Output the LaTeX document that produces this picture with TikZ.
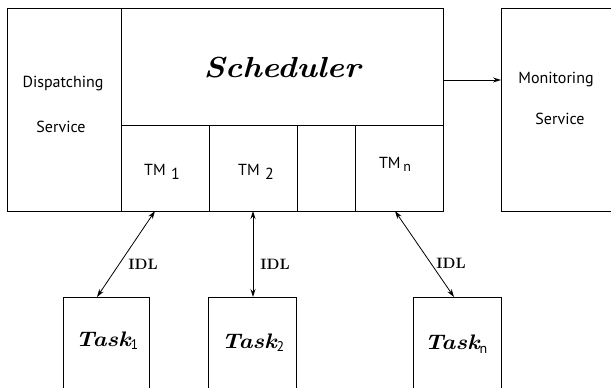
\documentclass[tikz,border=0pt]{standalone}
\usepackage{fontspec}
\usepackage{graphicx}
\newfontfamily\labelfont{PT Sans}
\usetikzlibrary{arrows.meta}
\tikzset{
  box/.style={draw, line width=1pt},
  plain/.style={font=\labelfont\fontsize{16}{18}\selectfont, inner sep=0pt},
  tm/.style={font=\labelfont\fontsize{16}{18}\selectfont, inner sep=0pt},
  title/.style={font=\bfseries\itshape\fontsize{29}{32}\selectfont, inner sep=0pt},
  task/.style={font=\bfseries\itshape\fontsize{21}{24}\selectfont, inner sep=0pt},
  idl/.style={font=\bfseries\fontsize{15}{17}\selectfont, inner sep=0pt},
  link/.style={line width=0.8pt, {Stealth[length=8pt,width=5pt]}-{Stealth[length=8pt,width=5pt]}},
  feed/.style={line width=0.8pt, -{Stealth[length=8pt,width=5pt]}}
}
\newcommand{\wide}[1]{\scalebox{1.13}[1]{#1}}
\newcommand{\tasksub}[2]{\raisebox{#1}{\labelfont\fontsize{14}{16}\selectfont\mdseries\upshape #2}}
\begin{document}
\begin{tikzpicture}[x=1pt, y=-1pt]
\useasboundingbox (0,0) rectangle (611,388);
% outer frame of dispatcher + scheduler
\draw[box] (7,8) rectangle (443,211);
\draw[box] (121,8) -- (121,211);
\draw[box] (121,125) -- (443,125);
\foreach \x in {209,297,355} \draw[box] (\x,125) -- (\x,211);
% monitoring service (runs off the right edge)
\draw[box] (611,8) -- (501,8) -- (501,211) -- (611,211);
% task boxes, open at the bottom
\draw[box] (63,389) -- (63,297) -- (149,297) -- (149,389);
\draw[box] (208,389) -- (208,297) -- (296,297) -- (296,389);
\draw[box] (413,389) -- (413,297) -- (501,297) -- (501,389);

% text
\node[plain] (disp1) at (63,84) {Dispatching};
\node[plain] (disp2) at (61,127) {Service};
\node[title] (sched) at (282,68) {\wide{Scheduler}};
\node[plain] (mon1) at (556,80) {Monitoring};
\node[plain] (mon2) at (560,119) {Service};
\node[tm] (tm1) at (162,172) {TM\,\,\raisebox{-0.45ex}{1}};
\node[tm] (tm2) at (256,172) {TM\,\,\raisebox{-0.45ex}{2}};
\node[tm] (tmn) at (395,164) {TM\,\raisebox{-0.4ex}{\fontsize{14}{16}\selectfont n}};
\node[task] (task1) at (107,341) {\wide{Task}\tasksub{-0.35ex}{1}};
\node[task] (task2) at (253,343) {\wide{Task}\tasksub{-0.35ex}{2}};
\node[task] (taskn) at (456,344) {\wide{Task}\tasksub{-0.45ex}{n}};
\node[idl] (idl1) at (143,264) {IDL};
\node[idl] (idl2) at (275,264) {IDL};
\node[idl] (idln) at (451,263) {IDL};

% connector end points
\coordinate (tm1b) at (155,211);
\coordinate (tm2b) at (253,211);
\coordinate (tmnb) at (395,211);
\coordinate (task1t) at (97,297);
\coordinate (task2t) at (253,297);
\coordinate (tasknt) at (454,297);
\coordinate (schedr) at (443,80);
\coordinate (monl) at (501,80);

\draw[link] (tm1b) -- (task1t);
\draw[link] (tm2b) -- (task2t);
\draw[link] (tmnb) -- (tasknt);
\draw[feed] (schedr) -- (monl);
\end{tikzpicture}
\end{document}
